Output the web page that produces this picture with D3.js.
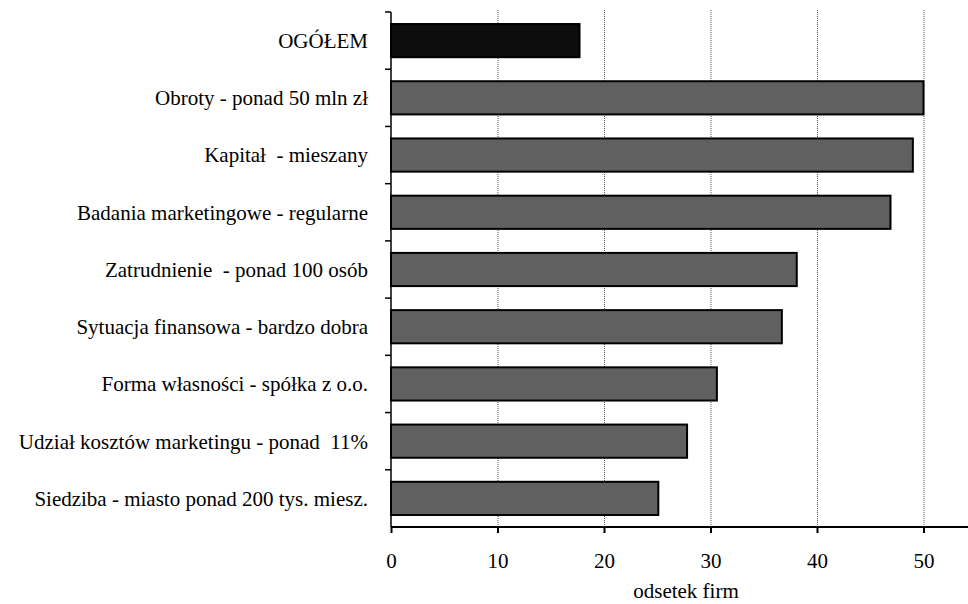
<!DOCTYPE html>
<html>
<head>
<meta charset="utf-8">
<script src="https://cdn.jsdelivr.net/npm/d3@7/dist/d3.min.js"></script>
<style>
  html, body { margin: 0; padding: 0; background: #fff; }
  svg text { fill: #000; white-space: pre; }
</style>
</head>
<body>
<svg id="chart" width="968" height="604"></svg>
<script>
// Categories (top to bottom) and share of firms (%)
const categories = [
  "OGÓŁEM",
  "Obroty - ponad 50 mln zł",
  "Kapitał  - mieszany",
  "Badania marketingowe - regularne",
  "Zatrudnienie  - ponad 100 osób",
  "Sytuacja finansowa - bardzo dobra",
  "Forma własności - spółka z o.o.",
  "Udział kosztów marketingu - ponad  11%",
  "Siedziba - miasto ponad 200 tys. miesz."
];
const values = [17.7, 50.0, 49.0, 46.9, 38.1, 36.7, 30.6, 27.8, 25.1];
const xTicks = [0, 10, 20, 30, 40, 50];
const xTitle = "odsetek firm";

(function () {
  const svg = d3.select("#chart");
  const plotLeft = 391, plotTop = 12, plotBottom = 527;
  const pxPerUnit = 10.65;
  const xMax = 55;
  const fontSize = 21;
  const serif = "'Liberation Serif', serif";

  const x = d3.scaleLinear().domain([0, xMax]).range([plotLeft, plotLeft + xMax * pxPerUnit]);
  const y = d3.scaleBand().domain(categories).range([plotTop, plotBottom]).paddingInner(0.42).paddingOuter(0.21);

  // Dotted vertical gridlines
  svg.append("g")
    .selectAll("line")
    .data(xTicks.filter(d => d > 0))
    .join("line")
    .attr("x1", d => x(d) + 0.5).attr("x2", d => x(d) + 0.5)
    .attr("y1", plotTop - 2).attr("y2", plotBottom)
    .attr("stroke", "#555").attr("stroke-width", 1)
    .attr("stroke-dasharray", "1,1");

  // Bars
  svg.append("g")
    .selectAll("rect")
    .data(categories)
    .join("rect")
    .attr("x", x(0))
    .attr("y", d => y(d))
    .attr("width", (d, i) => x(values[i]) - x(0))
    .attr("height", y.bandwidth())
    .attr("fill", (d, i) => i === 0 ? "#0d0d0d" : "#606060")
    .attr("stroke", "#000")
    .attr("stroke-width", 2);

  // Y axis: line with ticks at category boundaries
  const yAxis = svg.append("g");
  yAxis.append("line")
    .attr("x1", plotLeft).attr("x2", plotLeft)
    .attr("y1", plotTop).attr("y2", plotBottom)
    .attr("stroke", "#000").attr("stroke-width", 1.5);
  const step = (plotBottom - plotTop) / categories.length;
  yAxis.selectAll("line.tick")
    .data(d3.range(categories.length))
    .join("line")
    .attr("class", "tick")
    .attr("x1", plotLeft - 6).attr("x2", plotLeft)
    .attr("y1", i => plotTop + i * step).attr("y2", i => plotTop + i * step)
    .attr("stroke", "#000").attr("stroke-width", 1.5);

  // Category labels
  svg.append("g")
    .selectAll("text")
    .data(categories)
    .join("text")
    .attr("x", 368)
    .attr("y", d => y(d) + y.bandwidth() / 2)
    .attr("dy", "0.35em")
    .attr("text-anchor", "end")
    .style("font-family", serif)
    .style("font-size", fontSize + "px")
    .text(d => d);

  // X axis
  const xAxis = d3.axisBottom(x).tickValues(xTicks).tickSize(6).tickPadding(20);
  const gx = svg.append("g")
    .attr("transform", `translate(0,${plotBottom})`)
    .call(xAxis);
  gx.select(".domain").attr("stroke", "#000").attr("stroke-width", 2)
    .attr("d", `M${plotLeft},0H${978}`);
  gx.selectAll(".tick line").attr("stroke", "#000").attr("stroke-width", 2);
  gx.attr("font-family", null).attr("font-size", null);
  gx.selectAll(".tick text")
    .style("font-family", serif)
    .style("font-size", fontSize + "px")
    .attr("fill", "#000");

  // X axis title
  svg.append("text")
    .attr("x", 686)
    .attr("y", 598)
    .attr("text-anchor", "middle")
    .style("font-family", serif)
    .style("font-size", fontSize + "px")
    .text(xTitle);
})();
</script>
</body>
</html>
